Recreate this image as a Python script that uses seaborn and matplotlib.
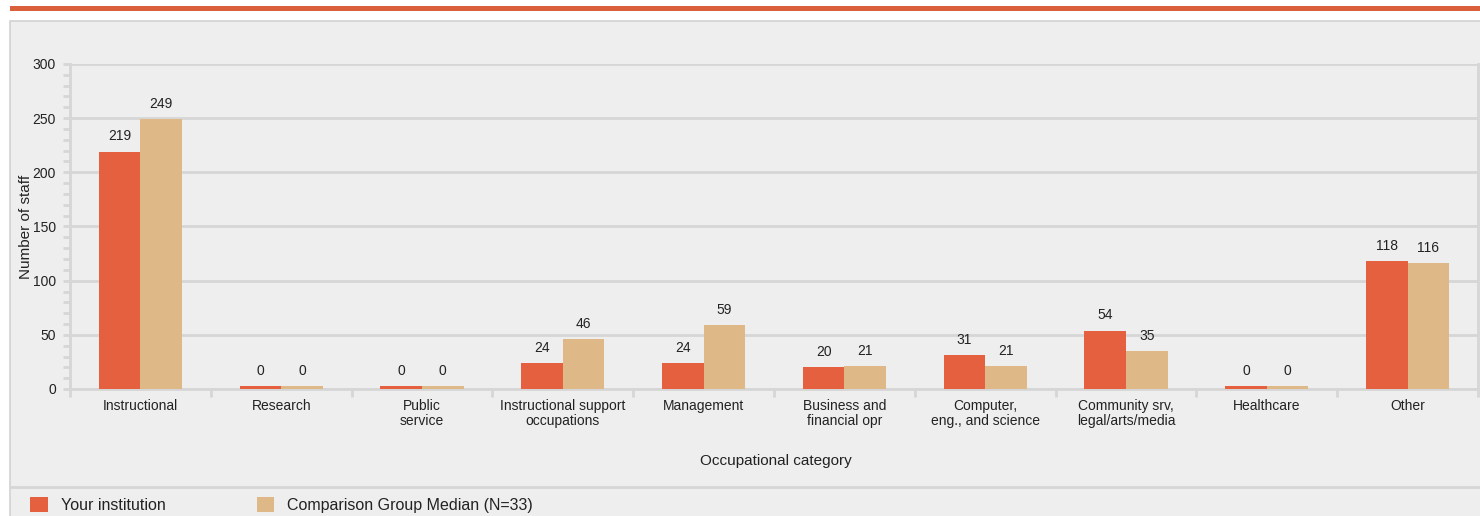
import numpy as np
import pandas as pd
import matplotlib
matplotlib.use("Agg")
import matplotlib.pyplot as plt
from matplotlib.patches import Rectangle
from matplotlib.lines import Line2D
from matplotlib.ticker import MultipleLocator, FixedLocator
import seaborn as sns

# Data
categories = [
    "Instructional", "Research", "Public\nservice",
    "Instructional support\noccupations", "Management",
    "Business and\nfinancial opr", "Computer,\neng., and science",
    "Community srv,\nlegal/arts/media", "Healthcare", "Other",
]
your_institution = [219, 0, 0, 24, 24, 20, 31, 54, 0, 118]
comparison_median = [249, 0, 0, 46, 59, 21, 21, 35, 0, 116]
series_names = ["Your institution", "Comparison Group Median (N=33)"]

df = pd.DataFrame({
    "category": categories * 2,
    "series": [series_names[0]] * len(categories) + [series_names[1]] * len(categories),
    "value": your_institution + comparison_median,
})
# zero values still get a thin sliver, like the original
df["shown"] = df["value"].clip(lower=2.5)

RED = "#e4603e"
TAN = "#dfb887"
GRID = "#d6d6d6"
BG = "#eeeeee"

sns.set_style("white")
plt.rcParams["font.family"] = ["Liberation Sans", "DejaVu Sans"]

fig = plt.figure(figsize=(14.8, 5.16), dpi=100)
W, H = 1480, 516

# top rule and panel
fig.patches.append(Rectangle((10 / W, 1 - 11 / H), 1, 5 / H, transform=fig.transFigure,
                             fc="#d9603b", ec="none", zorder=-10))
fig.patches.append(Rectangle((10 / W, -0.01), 1, 1 - 21 / H + 0.01, transform=fig.transFigure,
                             fc=BG, ec="#d2d2d2", lw=1.2, zorder=-10))
fig.lines.append(Line2D([10 / W, 1], [1 - 487 / H] * 2, transform=fig.transFigure,
                        color="#d6d6d6", lw=2, zorder=-5))

ax = fig.add_axes([70 / W, 127 / H, 1408 / W, 325 / H])
ax.set_facecolor(BG)

sns.barplot(data=df, x="category", y="shown", hue="series",
            palette=[RED, TAN], width=0.59, gap=0, saturation=1, linewidth=0,
            order=categories, hue_order=series_names, ax=ax, zorder=3)

for cont, vals in zip(ax.containers, [your_institution, comparison_median]):
    ax.bar_label(cont, labels=[str(v) for v in vals], padding=6, fontsize=10, color="#222222")

ax.set_ylim(0, 300)
ax.set_xlim(-0.5, len(categories) - 0.5)
ax.yaxis.set_major_locator(MultipleLocator(50))
ax.yaxis.set_minor_locator(MultipleLocator(10))
ax.yaxis.grid(True, color=GRID, lw=2, zorder=0)
ax.set_axisbelow(True)

ax.xaxis.set_minor_locator(FixedLocator(np.arange(-0.5, len(categories), 1.0)))
ax.tick_params(axis="x", which="major", length=0, pad=7, labelsize=10, labelcolor="#222222")
ax.tick_params(axis="x", which="minor", length=6, width=2, color=GRID, bottom=True)
ax.tick_params(axis="y", which="both", left=True, length=5, width=2, color=GRID,
               labelsize=10, labelcolor="#222222", pad=5)
for lab in ax.get_xticklabels():
    lab.set_linespacing(1.15)

for side in ["left", "bottom", "right"]:
    ax.spines[side].set_visible(True)
    ax.spines[side].set_color(GRID)
    ax.spines[side].set_linewidth(2)
ax.spines["top"].set_visible(False)

ax.set_xlabel("Occupational category", fontsize=11, color="#222222")
ax.xaxis.set_label_coords(0.501, -0.20)
ax.set_ylabel("Number of staff", fontsize=11, color="#222222")
ax.yaxis.set_label_coords(-0.026, 0.5)

handles, labels = ax.get_legend_handles_labels()
ax.get_legend().remove()
fig.legend(handles, labels, loc="center left", bbox_to_anchor=(16 / W, 1 - 505 / H),
           ncol=2, frameon=False, fontsize=11.5, handlelength=1.1, handleheight=1.1,
           handletextpad=0.8, columnspacing=5.7, labelcolor="#222222")

fig.savefig("out.png", dpi=100, facecolor="white")
